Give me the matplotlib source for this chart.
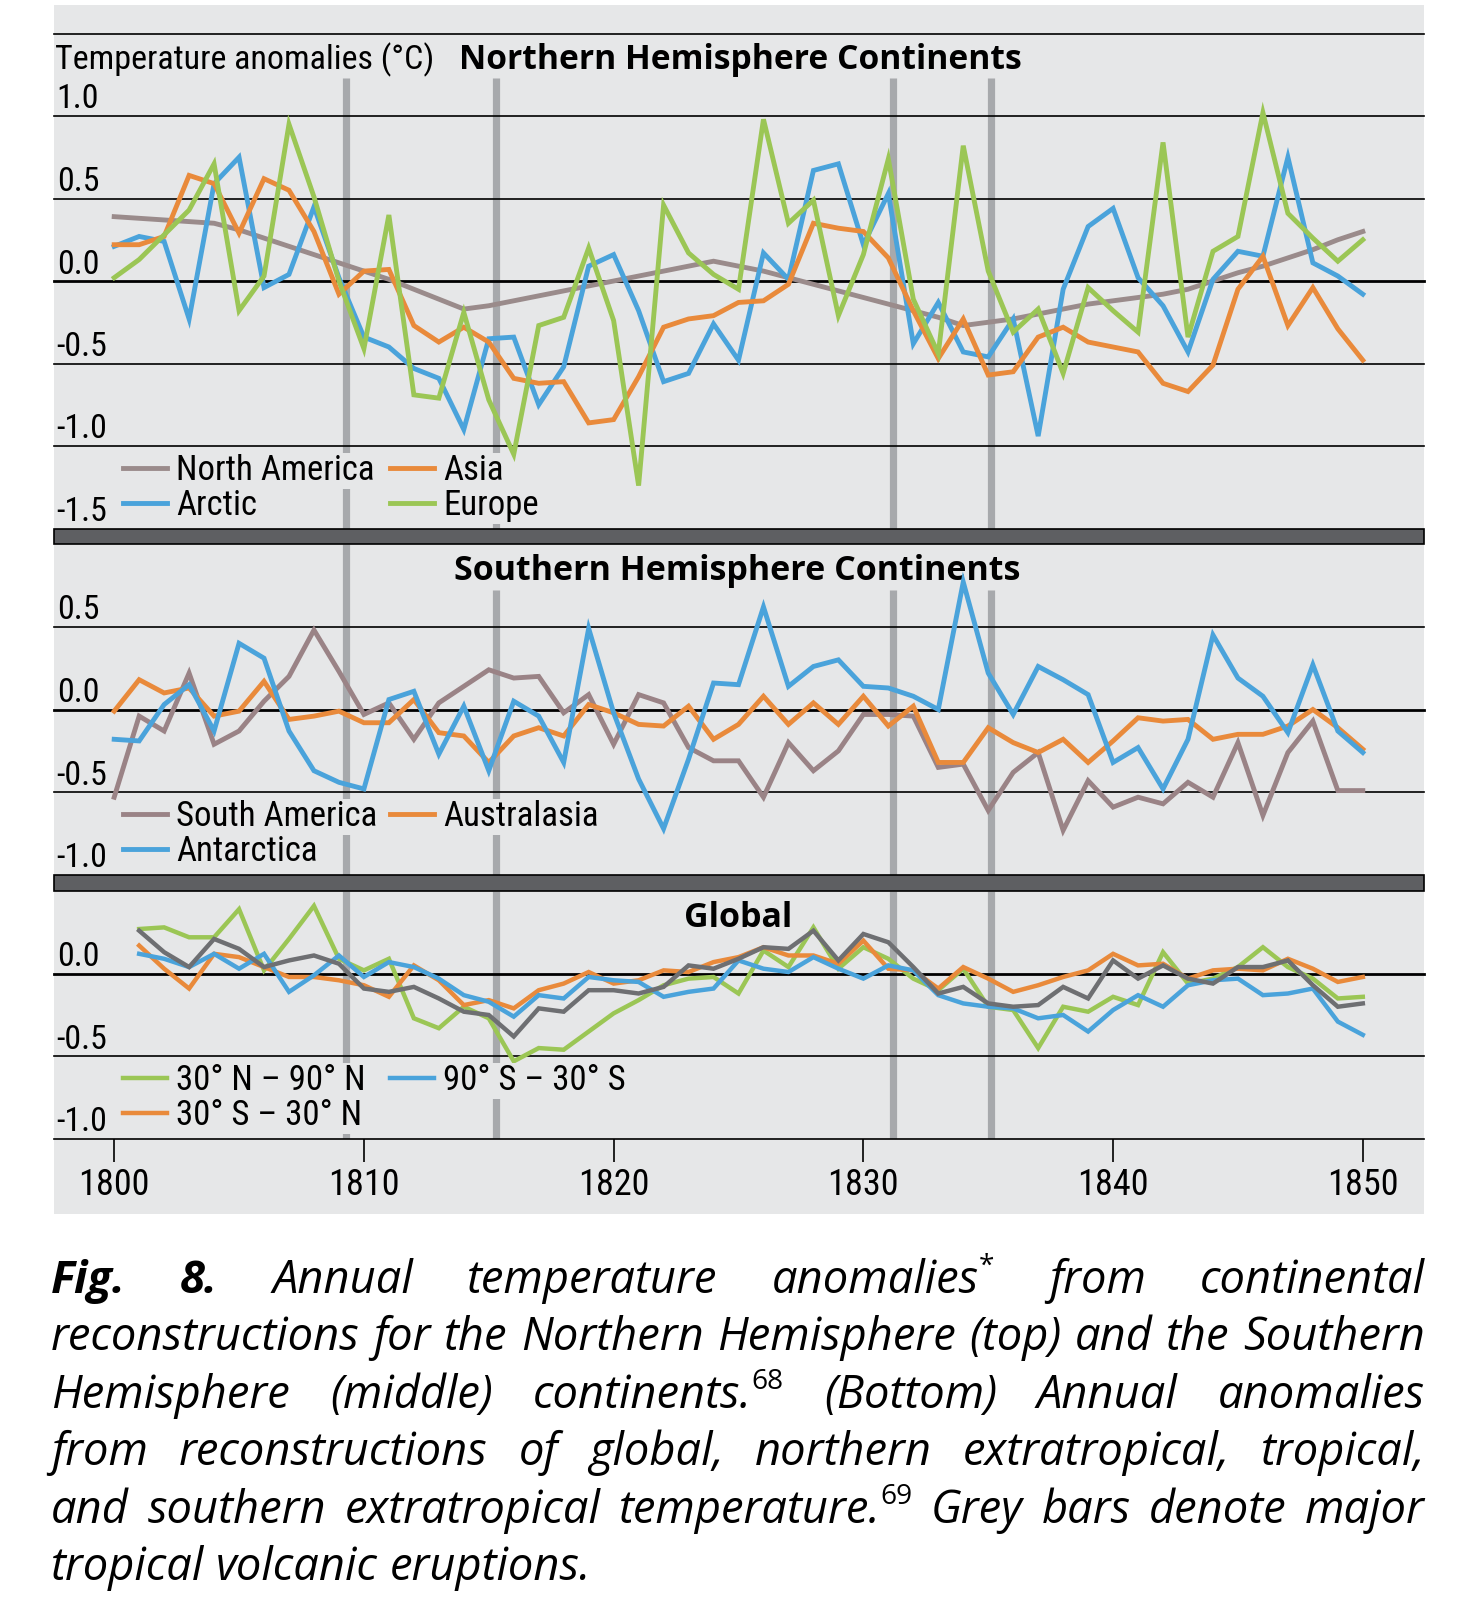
import matplotlib
matplotlib.use('Agg')
import matplotlib.pyplot as plt
from matplotlib import font_manager
from matplotlib.patches import Rectangle
from matplotlib.transforms import blended_transform_factory

W, H = 1462, 1600

'''data (read off the figure)'''
years = list(range(1800, 1851))
years_glob = list(range(1801, 1851))

north_america = [0.39, 0.38, 0.37, 0.36, 0.35, 0.31, 0.26, 0.21, 0.16, 0.11,
                 0.06, 0.01, -0.05, -0.11, -0.17, -0.15, -0.12, -0.09, -0.06, -0.03,
                 0.00, 0.03, 0.06, 0.09, 0.12, 0.09, 0.06, 0.02, -0.02, -0.06,
                 -0.10, -0.14, -0.18, -0.22, -0.27, -0.25, -0.23, -0.20, -0.17, -0.14,
                 -0.12, -0.10, -0.08, -0.05, 0.00, 0.05, 0.09, 0.14, 0.19, 0.25,
                 0.30]
asia = [0.22, 0.22, 0.27, 0.64, 0.59, 0.29, 0.62, 0.55, 0.30, -0.08,
        0.06, 0.07, -0.27, -0.37, -0.28, -0.37, -0.59, -0.62, -0.61, -0.86,
        -0.84, -0.58, -0.28, -0.23, -0.21, -0.13, -0.12, -0.02, 0.35, 0.32,
        0.30, 0.14, -0.18, -0.47, -0.23, -0.57, -0.55, -0.34, -0.28, -0.37,
        -0.40, -0.43, -0.62, -0.67, -0.51, -0.05, 0.15, -0.27, -0.04, -0.29,
        -0.48]
arctic = [0.21, 0.27, 0.24, -0.23, 0.59, 0.75, -0.04, 0.04, 0.45, 0.02,
          -0.34, -0.40, -0.53, -0.59, -0.90, -0.35, -0.34, -0.75, -0.52, 0.09,
          0.16, -0.18, -0.61, -0.56, -0.26, -0.48, 0.17, 0.01, 0.67, 0.71,
          0.22, 0.53, -0.38, -0.13, -0.43, -0.46, -0.23, -0.94, -0.05, 0.33,
          0.44, 0.02, -0.15, -0.43, 0.01, 0.18, 0.15, 0.75, 0.11, 0.03,
          -0.08]
europe = [0.02, 0.13, 0.28, 0.43, 0.71, -0.18, 0.03, 0.95, 0.51, 0.00,
          -0.41, 0.40, -0.69, -0.71, -0.19, -0.72, -1.05, -0.27, -0.22, 0.20,
          -0.24, -1.24, 0.46, 0.17, 0.04, -0.05, 0.98, 0.35, 0.49, -0.21,
          0.16, 0.74, -0.11, -0.44, 0.82, 0.06, -0.31, -0.17, -0.56, -0.04,
          -0.18, -0.31, 0.84, -0.34, 0.18, 0.27, 1.02, 0.41, 0.26, 0.12,
          0.25]

south_america = [-0.53, -0.04, -0.13, 0.22, -0.21, -0.13, 0.05, 0.20, 0.48, 0.23,
                 -0.03, 0.04, -0.18, 0.04, 0.14, 0.24, 0.19, 0.20, -0.02, 0.09,
                 -0.21, 0.09, 0.04, -0.23, -0.31, -0.31, -0.53, -0.20, -0.37, -0.25,
                 -0.03, -0.03, -0.04, -0.35, -0.33, -0.61, -0.38, -0.26, -0.73, -0.43,
                 -0.59, -0.53, -0.57, -0.44, -0.53, -0.20, -0.64, -0.26, -0.07, -0.49,
                 -0.49]
australasia = [-0.01, 0.18, 0.10, 0.13, -0.04, -0.01, 0.17, -0.06, -0.04, -0.01,
               -0.08, -0.08, 0.06, -0.14, -0.16, -0.32, -0.16, -0.11, -0.16, 0.03,
               -0.02, -0.09, -0.10, 0.02, -0.18, -0.09, 0.08, -0.09, 0.04, -0.09,
               0.08, -0.10, 0.02, -0.32, -0.32, -0.11, -0.20, -0.26, -0.18, -0.32,
               -0.19, -0.05, -0.07, -0.06, -0.18, -0.15, -0.15, -0.10, 0.00, -0.11,
               -0.24]
antarctica = [-0.18, -0.19, 0.03, 0.15, -0.13, 0.40, 0.31, -0.13, -0.37, -0.44,
              -0.48, 0.06, 0.11, -0.27, 0.02, -0.37, 0.05, -0.04, -0.32, 0.49,
              -0.02, -0.42, -0.72, -0.30, 0.16, 0.15, 0.62, 0.14, 0.26, 0.30,
              0.14, 0.13, 0.08, 0.00, 0.77, 0.22, -0.03, 0.26, 0.18, 0.09,
              -0.32, -0.23, -0.48, -0.18, 0.45, 0.19, 0.08, -0.14, 0.27, -0.13,
              -0.26]

# global panel, 1801-1850
nh_extratropics = [0.27, 0.28, 0.22, 0.22, 0.39, 0.02, 0.21, 0.41, 0.09, 0.02,
                   0.09, -0.27, -0.33, -0.20, -0.27, -0.53, -0.45, -0.46, -0.35, -0.24,
                   -0.16, -0.07, -0.03, -0.02, -0.12, 0.14, 0.04, 0.28, 0.03, 0.16,
                   0.09, -0.03, -0.10, 0.03, -0.20, -0.22, -0.45, -0.20, -0.23, -0.14,
                   -0.19, 0.13, -0.06, -0.03, 0.04, 0.16, 0.04, -0.03, -0.15, -0.14]
tropics = [0.17, 0.03, -0.09, 0.12, 0.10, 0.04, -0.02, -0.02, -0.04, -0.07,
           -0.14, 0.05, -0.04, -0.19, -0.16, -0.21, -0.10, -0.06, 0.01, -0.06,
           -0.04, 0.02, 0.01, 0.07, 0.10, 0.16, 0.11, 0.11, 0.06, 0.20,
           0.03, 0.02, -0.09, 0.04, -0.03, -0.11, -0.07, -0.02, 0.02, 0.12,
           0.05, 0.06, -0.03, 0.02, 0.03, 0.02, 0.09, 0.03, -0.05, -0.02]
sh_extratropics = [0.12, 0.09, 0.04, 0.12, 0.03, 0.12, -0.11, -0.01, 0.11, -0.02,
                   0.07, 0.04, -0.03, -0.13, -0.17, -0.26, -0.13, -0.15, -0.02, -0.04,
                   -0.05, -0.14, -0.11, -0.09, 0.08, 0.03, 0.01, 0.10, 0.03, -0.03,
                   0.05, 0.02, -0.13, -0.18, -0.20, -0.21, -0.27, -0.25, -0.35, -0.22,
                   -0.13, -0.20, -0.07, -0.04, -0.03, -0.13, -0.12, -0.09, -0.29, -0.37]
global_mean = [0.26, 0.13, 0.04, 0.21, 0.15, 0.04, 0.08, 0.11, 0.06, -0.09,
               -0.11, -0.08, -0.15, -0.23, -0.25, -0.38, -0.21, -0.23, -0.10, -0.10,
               -0.12, -0.08, 0.05, 0.03, 0.09, 0.16, 0.15, 0.26, 0.08, 0.24,
               0.19, 0.04, -0.12, -0.08, -0.18, -0.20, -0.19, -0.08, -0.15, 0.08,
               -0.03, 0.05, -0.03, -0.06, 0.04, 0.04, 0.08, -0.07, -0.20, -0.18]

eruptions = [1809.3, 1815.3, 1831.2, 1835.1]
xticks = [1800, 1810, 1820, 1830, 1840, 1850]

caption_lines = [
    "**Fig.** **8.** Annual temperature anomalies^* from continental",
    "reconstructions for the Northern Hemisphere (top) and the Southern",
    "Hemisphere (middle) continents.^68 (Bottom) Annual anomalies",
    "from reconstructions of global, northern extratropical, tropical,",
    "and southern extratropical temperature.^69 Grey bars denote major",
    "tropical volcanic eruptions.",
]

'''colours'''
BG = '#e6e7e8'
TAUPE = '#9a8b8b'
MAUVE = '#9a8386'
ORANGE = '#e98a3b'
BLUE = '#4aa3db'
GREEN = '#9bc655'
DGREY = '#6e6f72'
BAR = '#a7a9ac'

'''fonts'''
ttf = font_manager.fontManager.ttflist
names = {f.name for f in ttf}

cond, cond_stretch = None, 'normal'
for c in ['Roboto Condensed', 'Open Sans Condensed', 'Liberation Sans Narrow',
          'Noto Sans Condensed', 'DejaVu Sans Condensed']:
    if c in names:
        cond = c
        break
if cond is None:
    if any(f.name == 'DejaVu Sans' and f.stretch == 'condensed' for f in ttf):
        cond, cond_stretch = 'DejaVu Sans', 'condensed'
    elif 'Roboto' in names:
        cond = 'Roboto'
    else:
        cond = 'DejaVu Sans'

def has_style(name, style):
    return any(f.name == name and f.style == style for f in ttf)

cap_font = 'DejaVu Sans'
for c in ['Open Sans', 'Noto Sans', 'Lato', 'Roboto']:
    if has_style(c, 'italic'):
        cap_font = c
        break
bold_font = 'Open Sans' if 'Open Sans' in names else 'DejaVu Sans'

plt.rcParams['font.family'] = [cond, 'DejaVu Sans']
plt.rcParams['font.stretch'] = cond_stretch

'''figure'''
fig = plt.figure(figsize=(W / 100, H / 100), dpi=100, facecolor='white')

def fig_rect(x0, y0, x1, y1, **kw):
    # pixel box (top-left origin) -> figure patch
    r = Rectangle((x0 / W, 1 - y1 / H), (x1 - x0) / W, (y1 - y0) / H,
                  transform=fig.transFigure, **kw)
    fig.patches.append(r)

fig_rect(54, 5, 1424, 1214, facecolor=BG, edgecolor='none', zorder=-5)

L, R = 54, 1424
def add_ax(ytop, ybot, ylim):
    ax = fig.add_axes([L / W, 1 - ybot / H, (R - L) / W, (ybot - ytop) / H])
    ax.set_facecolor('none')
    ax.set_xlim(1797.59, 1852.45)
    ax.set_ylim(*ylim)
    for s in ax.spines.values():
        s.set_visible(False)
    ax.set_xticks([])
    ax.set_yticks([])
    return ax

ax1 = add_ax(33.5, 528.5, (-1.5, 1.5))
ax2 = add_ax(544, 875, (-1.0, 1.0))
ax3 = add_ax(891, 1139, (-1.0, 0.5))

fig_rect(L, 528.5, R, 544, facecolor='#5e5f62', edgecolor='black', lw=1.2, zorder=1)
fig_rect(L, 875, R, 891, facecolor='#5e5f62', edgecolor='black', lw=1.2, zorder=1)

def furniture(ax, bar_tops, grid, labels):
    # grey eruption bars stop under the panel titles
    ax.vlines(eruptions, ax.get_ylim()[0], bar_tops, color=BAR, lw=5.2, zorder=1)
    for g in grid:
        ax.axhline(g, color='black', lw=2.0 if g == 0 else 1.2, zorder=2, clip_on=False)
    tr = blended_transform_factory(ax.transAxes, ax.transData)
    for v in labels:
        ax.text(0.002, v + 0.10, f'{v:.1f}', transform=tr, ha='left', va='center',
                fontsize=24.5, zorder=2)

furniture(ax1, [1.23] * 4, [1.5, 1.0, 0.5, 0.0, -0.5, -1.0], [1.0, 0.5, 0.0, -0.5, -1.0, -1.5])
furniture(ax2, [1.0, 0.72, 0.72, 0.72], [0.5, 0.0, -0.5], [0.5, 0.0, -0.5, -1.0])
furniture(ax3, [0.5] * 4, [0.0, -0.5, -1.0], [0.0, -0.5, -1.0])

kw = dict(lw=3.5, zorder=3, solid_joinstyle='miter')
l_na, = ax1.plot(years, north_america, color=TAUPE, label='North America', **kw)
l_ar, = ax1.plot(years, arctic, color=BLUE, label='Arctic', **kw)
l_as, = ax1.plot(years, asia, color=ORANGE, label='Asia', **kw)
l_eu, = ax1.plot(years, europe, color=GREEN, label='Europe', **kw)

l_sa, = ax2.plot(years, south_america, color=MAUVE, label='South America', **kw)
l_au, = ax2.plot(years, australasia, color=ORANGE, label='Australasia', **kw)
l_an, = ax2.plot(years, antarctica, color=BLUE, label='Antarctica', **kw)

kw3 = dict(lw=3.2, zorder=3, solid_joinstyle='miter')
l_nh, = ax3.plot(years_glob, nh_extratropics, color=GREEN, label='30° N – 90° N', **kw3)
l_tr, = ax3.plot(years_glob, tropics, color=ORANGE, label='30° S – 30° N', **kw3)
l_sh, = ax3.plot(years_glob, sh_extratropics, color=BLUE, label='90° S – 30° S', **kw3)
ax3.plot(years_glob, global_mean, color=DGREY, **kw3)

# titles
tr1 = blended_transform_factory(ax1.transAxes, ax1.transData)
ax1.text(0.001, 1.283, 'Temperature anomalies (°C)', transform=tr1, ha='left',
         va='baseline', fontsize=24.5)
ax1.text(0.2956, 1.283, 'Northern Hemisphere Continents', transform=tr1, ha='left',
         va='baseline', fontsize=24.2, family=bold_font, weight='bold')
tr2 = blended_transform_factory(ax2.transAxes, ax2.transData)
ax2.text(0.4985, 0.785, 'Southern Hemisphere Continents', transform=tr2, ha='center',
         va='baseline', fontsize=24.5, family=bold_font, weight='bold', zorder=1.5)
tr3 = blended_transform_factory(ax3.transAxes, ax3.transData)
ax3.text(0.4993, 0.28, 'Global', transform=tr3, ha='center', va='baseline',
         fontsize=24.5, family=bold_font, weight='bold', zorder=1.5)

# x axis
ax3.set_xticks(xticks)
ax3.set_xticklabels([str(x) for x in xticks])
ax3.tick_params(axis='x', direction='out', length=16.5, width=1.2, color='black',
                pad=4, labelsize=26)

'''legends, nudged so the columns sit where the reference has them'''
FS_LEG = 25
fs_px = FS_LEG * 100 / 72

def make_legend(ax, handles, anchor, colsp):
    leg = ax.legend(handles=handles, ncol=2, loc='upper left', bbox_to_anchor=anchor,
                    frameon=False, fontsize=FS_LEG, handlelength=1.27,
                    handletextpad=0.27, columnspacing=colsp, labelspacing=0.05,
                    borderpad=0, borderaxespad=0)
    for t in leg.get_texts():
        t.set_bbox(dict(facecolor=BG, edgecolor='none', pad=1))
    leg.set_zorder(5)
    return leg

# (axes, handles, rows, first-row centre in px from top)
specs = [(ax1, [l_na, l_ar, l_as, l_eu], 2, 471),
         (ax2, [l_sa, l_an, l_au], 2, 817),
         (ax3, [l_nh, l_tr, l_sh], 2, 1081)]
col1_x, col2_x = 176, 443

legs = [make_legend(ax, hs, (0.05, 0.2), 0.5) for ax, hs, _, _ in specs]
fig.canvas.draw()
renderer = fig.canvas.get_renderer()
for (ax, hs, nrow, yrow), leg in zip(specs, legs):
    texts = leg.get_texts()
    b1 = texts[0].get_window_extent(renderer)
    b2 = texts[nrow].get_window_extent(renderer)
    axb = ax.get_window_extent(renderer)
    dx = col1_x - b1.x0
    dcol = (col2_x - b2.x0) - dx
    dy = (H - yrow) - (b1.y0 + b1.y1) / 2
    leg.remove()
    make_legend(ax, hs, (0.05 + dx / axb.width, 0.2 + dy / axb.height), 0.5 + dcol / fs_px)

'''caption, justified'''
cap_l, cap_r = 51, 1425
cap_w = cap_r - cap_l
base0, step = 1293, 57.4

def ftext(s, size, bold=False, sup=False):
    return fig.text(0, 0, s, fontsize=size, family=[cap_font, 'DejaVu Sans'],
                    style='normal' if sup else 'italic',
                    weight='bold' if bold else 'normal', va='baseline', ha='left')

def width(t):
    return t.get_window_extent(renderer).width

probe = ftext(caption_lines[1], 30)
cap_size = 30 * cap_w / width(probe) * 0.99
probe.remove()

a1 = ftext('a a', cap_size)
a2 = ftext('aa', cap_size)
space = width(a1) - width(a2)
a1.remove()
a2.remove()

raise_px = 0.42 * cap_size * 100 / 72
for i, line in enumerate(caption_lines):
    y = base0 + step * i
    words = []
    for wtok in line.split(' '):
        bold = wtok.startswith('**')
        main, _, sup = wtok.replace('**', '').partition('^')
        frags = [(ftext(main, cap_size, bold), 0)]
        if sup:
            frags.append((ftext(sup, cap_size * 0.62, sup=True), raise_px))
        w = sum(width(t) for t, _ in frags)
        words.append((frags, w))
    total = sum(w for _, w in words)
    last = i == len(caption_lines) - 1
    gap = space if last else (cap_w - total) / (len(words) - 1)
    x = cap_l
    for frags, w in words:
        xx = x
        for t, dy in frags:
            t.set_position((xx / W, 1 - (y - dy) / H))
            xx += width(t)
        x += w + gap

fig.savefig('out.png', dpi=100, facecolor='white')
